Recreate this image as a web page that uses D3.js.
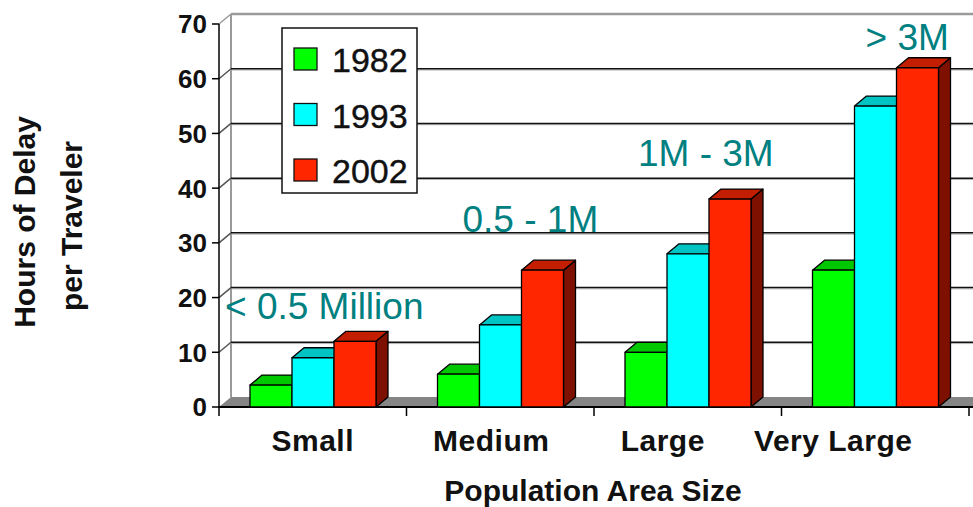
<!DOCTYPE html>
<html>
<head>
<meta charset="utf-8">
<script src="https://cdn.jsdelivr.net/npm/d3@7"></script>
<style>
  html, body { margin: 0; padding: 0; background: #fff; }
  svg { display: block; font-family: "Liberation Sans", Arial, Helvetica, sans-serif; }
</style>
</head>
<body>
<svg id="chart" width="973" height="507"></svg>
<script>
// Hours of delay per traveler by population area size
const categories = ["Small", "Medium", "Large", "Very Large"];
const years = ["1982", "1993", "2002"];
const delay1982 = [4, 6, 10, 25];
const delay1993 = [9, 15, 28, 55];
const delay2002 = [12, 25, 38, 62];
const yTicks = [0, 10, 20, 30, 40, 50, 60, 70];
const sizeRanges = ["< 0.5 Million", "0.5 - 1M", "1M - 3M", "> 3M"];
const yTitle = ["Hours of Delay", "per Traveler"];
const xTitle = "Population Area Size";

const seriesValues = [delay1982, delay1993, delay2002];

// face colours: front, top, side
const palette = [
  { front: "#00ff00", top: "#00c800", side: "#008000" },
  { front: "#00ffff", top: "#00c4c4", side: "#008080" },
  { front: "#ff2600", top: "#c41e00", side: "#7e1000" }
];

const svg = d3.select("#chart");
const W = 973;
const depthX = 12, depthY = 10;   // 3-D offset of the back wall

const x = d3.scaleBand().domain(categories).range([219, 969]);
const y = d3.scaleLinear().domain([0, 70]).range([407, 24]);
const inner = d3.scaleBand().domain(years).range([31, 31 + 126]);

const x0 = x.range()[0];

// ---- back wall and gridlines ----
const wall = svg.append("g");
wall.append("line")
  .attr("x1", x0 + depthX).attr("x2", x0 + depthX)
  .attr("y1", y(70) - depthY).attr("y2", y(0) - depthY)
  .attr("stroke", "#9a9a9a").attr("stroke-width", 2);

yTicks.filter(t => t > 0).forEach(t => {
  const yy = y(t);
  const top = t === 70;
  wall.append("line")
    .attr("x1", x0).attr("y1", yy)
    .attr("x2", x0 + depthX).attr("y2", yy - depthY)
    .attr("stroke", top ? "#9a9a9a" : "#555").attr("stroke-width", 1.5);
  if (!top) {
    wall.append("line")
      .attr("x1", x0 + depthX).attr("x2", W)
      .attr("y1", yy - depthY + 1.3).attr("y2", yy - depthY + 1.3)
      .attr("stroke", "#b0b0b0").attr("stroke-width", 1);
  }
  wall.append("line")
    .attr("x1", x0 + depthX).attr("x2", W)
    .attr("y1", yy - depthY).attr("y2", yy - depthY)
    .attr("stroke", top ? "#9a9a9a" : "#111").attr("stroke-width", top ? 2.5 : 1.5);
});

// ---- floor ----
svg.append("polygon")
  .attr("points", [
    [x0, y(0)], [x0 + depthX, y(0) - depthY], [W, y(0) - depthY], [W, y(0)]
  ].map(p => p.join(",")).join(" "))
  .attr("fill", "#858585");

// ---- axes ----
const axisG = svg.append("g").attr("stroke", "#000");
axisG.append("line")
  .attr("x1", x0).attr("x2", x0).attr("y1", y(70)).attr("y2", y(0) + 1)
  .attr("stroke-width", 1.5);
axisG.append("line")
  .attr("x1", x0).attr("x2", W).attr("y1", y(0)).attr("y2", y(0))
  .attr("stroke-width", 1.8);

yTicks.forEach(t => {
  axisG.append("line")
    .attr("x1", x0 - 7).attr("x2", x0).attr("y1", y(t)).attr("y2", y(t))
    .attr("stroke-width", 1.5);
});
svg.append("g").selectAll("text").data(yTicks).join("text")
  .attr("x", x0 - 12).attr("y", d => y(d))
  .attr("dy", "0.36em")
  .attr("text-anchor", "end")
  .attr("font-size", 26).attr("font-weight", "bold").attr("fill", "#111")
  .text(d => d);

const boundaries = categories.map(c => x(c)).concat([x.range()[1]]);
boundaries.forEach(bx => {
  axisG.append("line")
    .attr("x1", bx).attr("x2", bx).attr("y1", y(0)).attr("y2", y(0) + 9)
    .attr("stroke-width", 1.5);
});

// category labels sit slightly left of band centres
const catLabelShift = [0, -9, -25, -42];
svg.append("g").selectAll("text").data(categories).join("text")
  .attr("x", (d, i) => x(d) + x.bandwidth() / 2 + catLabelShift[i])
  .attr("y", 451)
  .attr("text-anchor", "middle")
  .attr("font-size", 30).attr("font-weight", "bold").attr("fill", "#111")
  .attr("letter-spacing", 0.5)
  .text(d => d);

svg.append("text")
  .attr("x", 593).attr("y", 501)
  .attr("text-anchor", "middle")
  .attr("font-size", 30).attr("font-weight", "bold").attr("fill", "#111")
  .text(xTitle);

const yTitlePos = [[35, 222], [82, 226]];
yTitle.forEach((t, i) => {
  svg.append("text")
    .attr("transform", `translate(${yTitlePos[i][0]},${yTitlePos[i][1]}) rotate(-90)`)
    .attr("text-anchor", "middle")
    .attr("font-size", 30).attr("font-weight", "bold").attr("fill", "#111")
    .text(t);
});

// ---- legend ----
const legend = svg.append("g");
legend.append("rect")
  .attr("x", 282).attr("y", 28).attr("width", 135).attr("height", 165)
  .attr("fill", "#fff").attr("stroke", "#111").attr("stroke-width", 1.5);
years.forEach((yr, i) => {
  const cy = 59 + i * 55.5;
  legend.append("rect")
    .attr("x", 294).attr("y", cy - 11).attr("width", 23).attr("height", 22)
    .attr("fill", palette[i].front).attr("stroke", "#111").attr("stroke-width", 1.3);
  legend.append("text")
    .attr("x", 332).attr("y", cy + 13)
    .attr("font-size", 34).attr("fill", "#111")
    .attr("stroke", "#111").attr("stroke-width", 0.4)
    .text(yr);
});

// ---- 3-D columns ----
const bars = svg.append("g").attr("stroke", "#000").attr("stroke-width", 1.3)
  .attr("stroke-linejoin", "round");
categories.forEach((cat, ci) => {
  years.forEach((yr, si) => {
    const v = seriesValues[si][ci];
    const bx = x(cat) + inner(yr);
    const bw = inner.bandwidth();
    const top = y(v), base = y(0);
    const col = palette[si];
    const g = bars.append("g");
    // side face
    g.append("polygon")
      .attr("points", [
        [bx + bw, base], [bx + bw, top], [bx + bw + depthX, top - depthY], [bx + bw + depthX, base - depthY]
      ].map(p => p.join(",")).join(" "))
      .attr("fill", col.side);
    // top face
    g.append("polygon")
      .attr("points", [
        [bx, top], [bx + depthX, top - depthY], [bx + bw + depthX, top - depthY], [bx + bw, top]
      ].map(p => p.join(",")).join(" "))
      .attr("fill", col.top);
    // front face
    g.append("rect")
      .attr("x", bx).attr("y", top).attr("width", bw).attr("height", base - top)
      .attr("fill", col.front);
  });
});

// ---- population range annotations ----
const rangeLabelPos = [
  { dx: 6, v: 16 },
  { dx: 56, v: 32 },
  { dx: 44, v: 44 },
  { dx: 84, v: 65.3 }
];
svg.append("g").selectAll("text").data(sizeRanges).join("text")
  .attr("x", (d, i) => x(categories[i]) + rangeLabelPos[i].dx)
  .attr("y", (d, i) => y(rangeLabelPos[i].v))
  .attr("font-size", 37).attr("fill", "#008080")
  .text(d => d);
</script>
</body>
</html>
